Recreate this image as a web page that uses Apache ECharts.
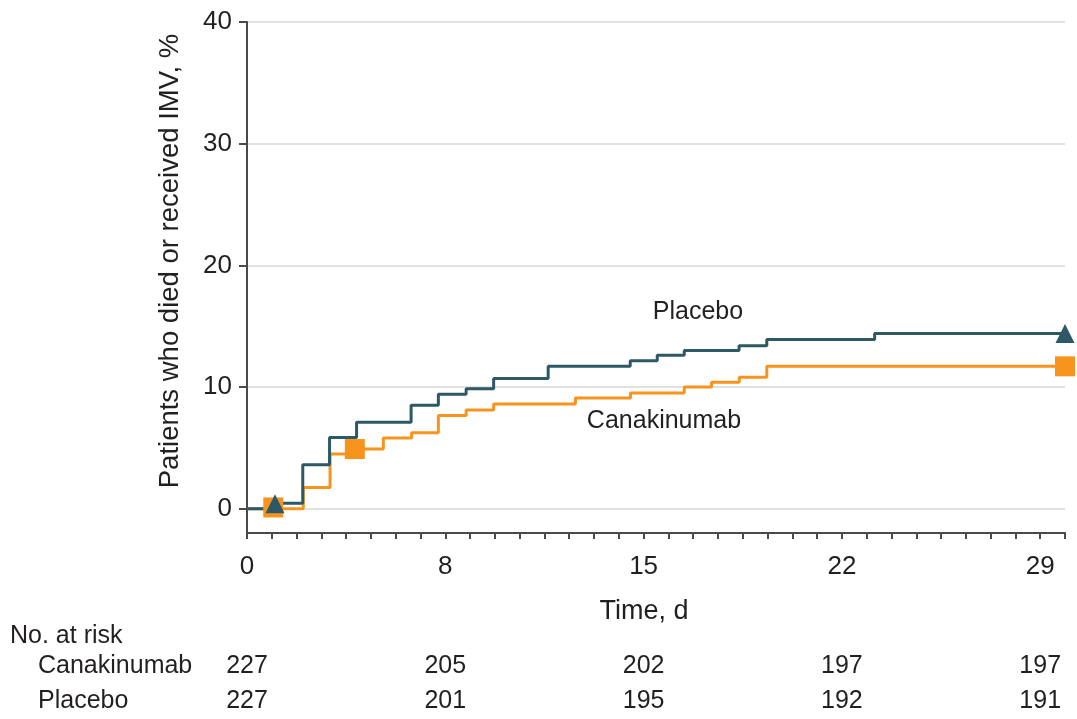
<!DOCTYPE html>
<html>
<head>
<meta charset="utf-8">
<script src="https://cdn.jsdelivr.net/npm/echarts@6.0.0/dist/echarts.min.js"></script>
<style>
  html, body { margin: 0; padding: 0; background: #fff; }
  #chart { width: 1077px; height: 719px; }
</style>
</head>
<body>
<div id="chart"></div>
<script>
// x is in axis units (one minor tick per unit); labels below map a few of them to days
const xTickPos = [0, 8, 16, 24, 32];
const xTickLabels = ["0", "8", "15", "22", "29"];
const yTicks = [0, 10, 20, 30, 40];

// step points: [time where the curve jumps, new cumulative %]
const placeboX = [0, 1.13, 2.25, 3.33, 4.42, 6.62, 7.72, 8.84, 9.95, 12.15, 15.46, 16.55, 17.64, 19.85, 20.97, 25.32, 33];
const placeboY = [0, 0.44, 3.6, 5.85, 7.1, 8.5, 9.4, 9.85, 10.7, 11.7, 12.15, 12.6, 13.0, 13.4, 13.9, 14.4, 14.4];
const canaX = [0, 2.27, 3.35, 4.4, 5.5, 6.64, 7.72, 8.84, 9.95, 13.25, 15.47, 17.64, 18.74, 19.86, 20.97, 33];
const canaY = [0, 1.75, 4.5, 4.9, 5.8, 6.25, 7.65, 8.1, 8.6, 9.1, 9.5, 10.0, 10.4, 10.8, 11.7, 11.7];

// marker symbols drawn on the curves
const placeboMarkX = [1.13, 33];
const placeboMarkY = [0.4, 14.4];
const canaMarkX = [1.06, 4.35, 33];
const canaMarkY = [0.1, 4.9, 11.7];

const riskCana = [227, 205, 202, 197, 197];
const riskPlacebo = [227, 201, 195, 192, 191];

const TEAL = "#2d5866";
const ORANGE = "#f7941d";
const INK = "#231f20";
const FONT = "Liberation Sans";

const zip = (xs, ys) => xs.map((x, i) => [x, ys[i]]);

const el = document.getElementById("chart");
const chart = echarts.init(el);

const option = {
  backgroundColor: "#fff",
  animation: false,
  textStyle: { fontFamily: FONT, color: INK },
  grid: { left: 247, right: 12, top: 22, bottom: 186, outerBoundsMode: "none" },
  xAxis: {
    type: "value", min: 0, max: 33, interval: 1,
    axisLine: { onZero: false, lineStyle: { color: "#4a4a4a", width: 2 } },
    axisTick: { show: true, length: 6, lineStyle: { color: "#4a4a4a", width: 2 } },
    axisLabel: {
      margin: 21, fontSize: 26, color: INK, fontFamily: FONT,
      formatter: v => { const i = xTickPos.indexOf(v); return i < 0 ? "" : xTickLabels[i]; }
    },
    splitLine: { show: false }
  },
  yAxis: {
    type: "value", min: -2, max: 40,
    axisLine: { show: true, lineStyle: { color: "#4a4a4a", width: 2 } },
    axisTick: { show: true, length: 8, customValues: yTicks, lineStyle: { color: "#4a4a4a", width: 2 } },
    axisLabel: { margin: 15, fontSize: 26, color: INK, fontFamily: FONT, customValues: yTicks },
    splitLine: { show: true, lineStyle: { color: "#e1e1e1", width: 2 } }
  },
  series: [
    {
      name: "Canakinumab", type: "line", step: "end", data: zip(canaX, canaY),
      showSymbol: false, lineStyle: { color: ORANGE, width: 3 }, z: 2
    },
    {
      name: "Placebo", type: "line", step: "end", data: zip(placeboX, placeboY),
      showSymbol: false, lineStyle: { color: TEAL, width: 3 }, z: 3
    },
    {
      type: "scatter", data: zip(canaMarkX, canaMarkY), symbol: "rect", symbolSize: 20,
      itemStyle: { color: ORANGE, opacity: 1 }, clip: false, z: 4
    },
    {
      type: "scatter", data: zip(placeboMarkX, placeboMarkY), symbol: "triangle", symbolSize: [19, 19],
      itemStyle: { color: TEAL, opacity: 1 }, clip: false, z: 5
    }
  ]
};

chart.setOption(option);

// labels, axis titles and the number-at-risk table
const txt = (x, y, text, size, align, extra) => Object.assign({
  type: "text", x, y,
  style: { text, fill: INK, font: size + "px " + FONT, textAlign: align || "left", textVerticalAlign: "middle" }
}, extra || {});

const graphics = [
  txt(170, 261, "Patients who died or received IMV, %", 27.5, "center", { rotation: Math.PI / 2 }),
  txt(644, 612, "Time, d", 27, "center"),
  txt(698, 312, "Placebo", 25, "center"),
  txt(664, 421, "Canakinumab", 25, "center"),
  txt(10, 636, "No. at risk", 25, "left"),
  txt(38, 666, "Canakinumab", 25, "left"),
  txt(38, 701, "Placebo", 25, "left")
];
xTickPos.forEach((t, i) => {
  const px = chart.convertToPixel({ gridIndex: 0 }, [t, 0])[0];
  graphics.push(txt(px, 666, String(riskCana[i]), 25, "center"));
  graphics.push(txt(px, 701, String(riskPlacebo[i]), 25, "center"));
});
chart.setOption({ graphic: graphics });

window.addEventListener("resize", () => chart.resize());
</script>
</body>
</html>
